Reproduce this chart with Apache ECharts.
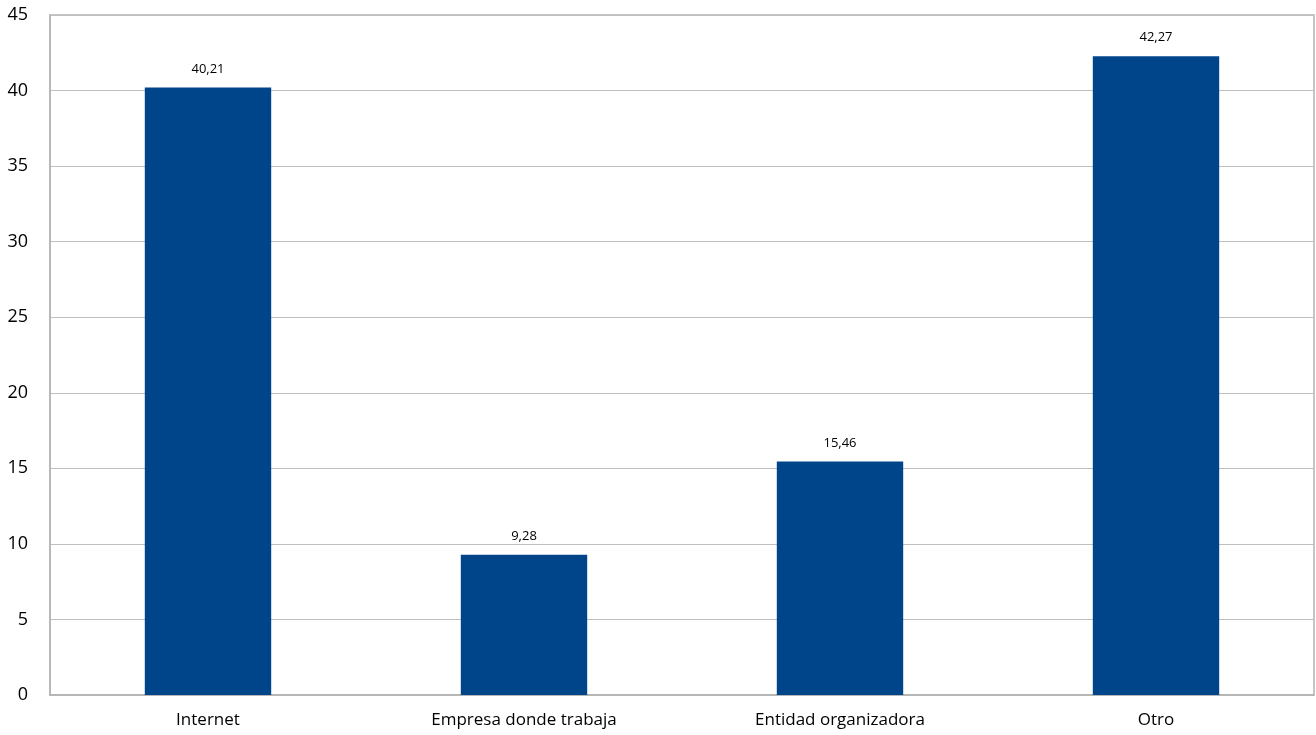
<!DOCTYPE html>
<html>
<head>
<meta charset="utf-8">
<style>
  html, body { margin: 0; padding: 0; background: #fff; }
  #chart { width: 1316px; height: 735px; }
</style>
<script src="https://cdn.jsdelivr.net/npm/echarts@6/dist/echarts.min.js"></script>
</head>
<body>
<div id="chart"></div>
<script>
// datos
var categories = ['Internet', 'Empresa donde trabaja', 'Entidad organizadora', 'Otro'];
var values = [40.21, 9.28, 15.46, 42.27];

(function () {
    var myChart = echarts.init(document.getElementById('chart'));
    var option = {
        animation: false,
        textStyle: { fontFamily: 'Open Sans' },
        grid: {
            left: 50,
            right: 2,
            top: 15,
            bottom: 40,
            // borde gris alrededor del área
            show: true,
            borderColor: '#b3b3b3',
            borderWidth: 1.5
        },
        xAxis: {
            type: 'category',
            data: categories,
            axisTick: { show: false },
            axisLine: { lineStyle: { color: '#b3b3b3', width: 1.5 } },
            axisLabel: { color: '#000', fontSize: 17, margin: 17 }
        },
        yAxis: {
            type: 'value',
            min: 0,
            max: 45,
            interval: 5,
            axisLine: { show: true, lineStyle: { color: '#b3b3b3', width: 1.5 } },
            axisTick: { show: false },
            axisLabel: { color: '#000', fontSize: 18, margin: 22 },
            splitLine: { lineStyle: { color: '#c0c0c0', width: 1 } }
        },
        series: [
            {
                type: 'bar',
                data: values,
                barWidth: '40%',
                itemStyle: { color: '#00458a' },
                label: {
                    show: true,
                    position: 'top',
                    distance: 12,
                    color: '#000',
                    fontSize: 13,
                    formatter: function (p) {
                        return p.value.toFixed(2).replace('.', ',');
                    }
                }
            }
        ]
    };
    myChart.setOption(option);
})();
</script>
</body>
</html>
